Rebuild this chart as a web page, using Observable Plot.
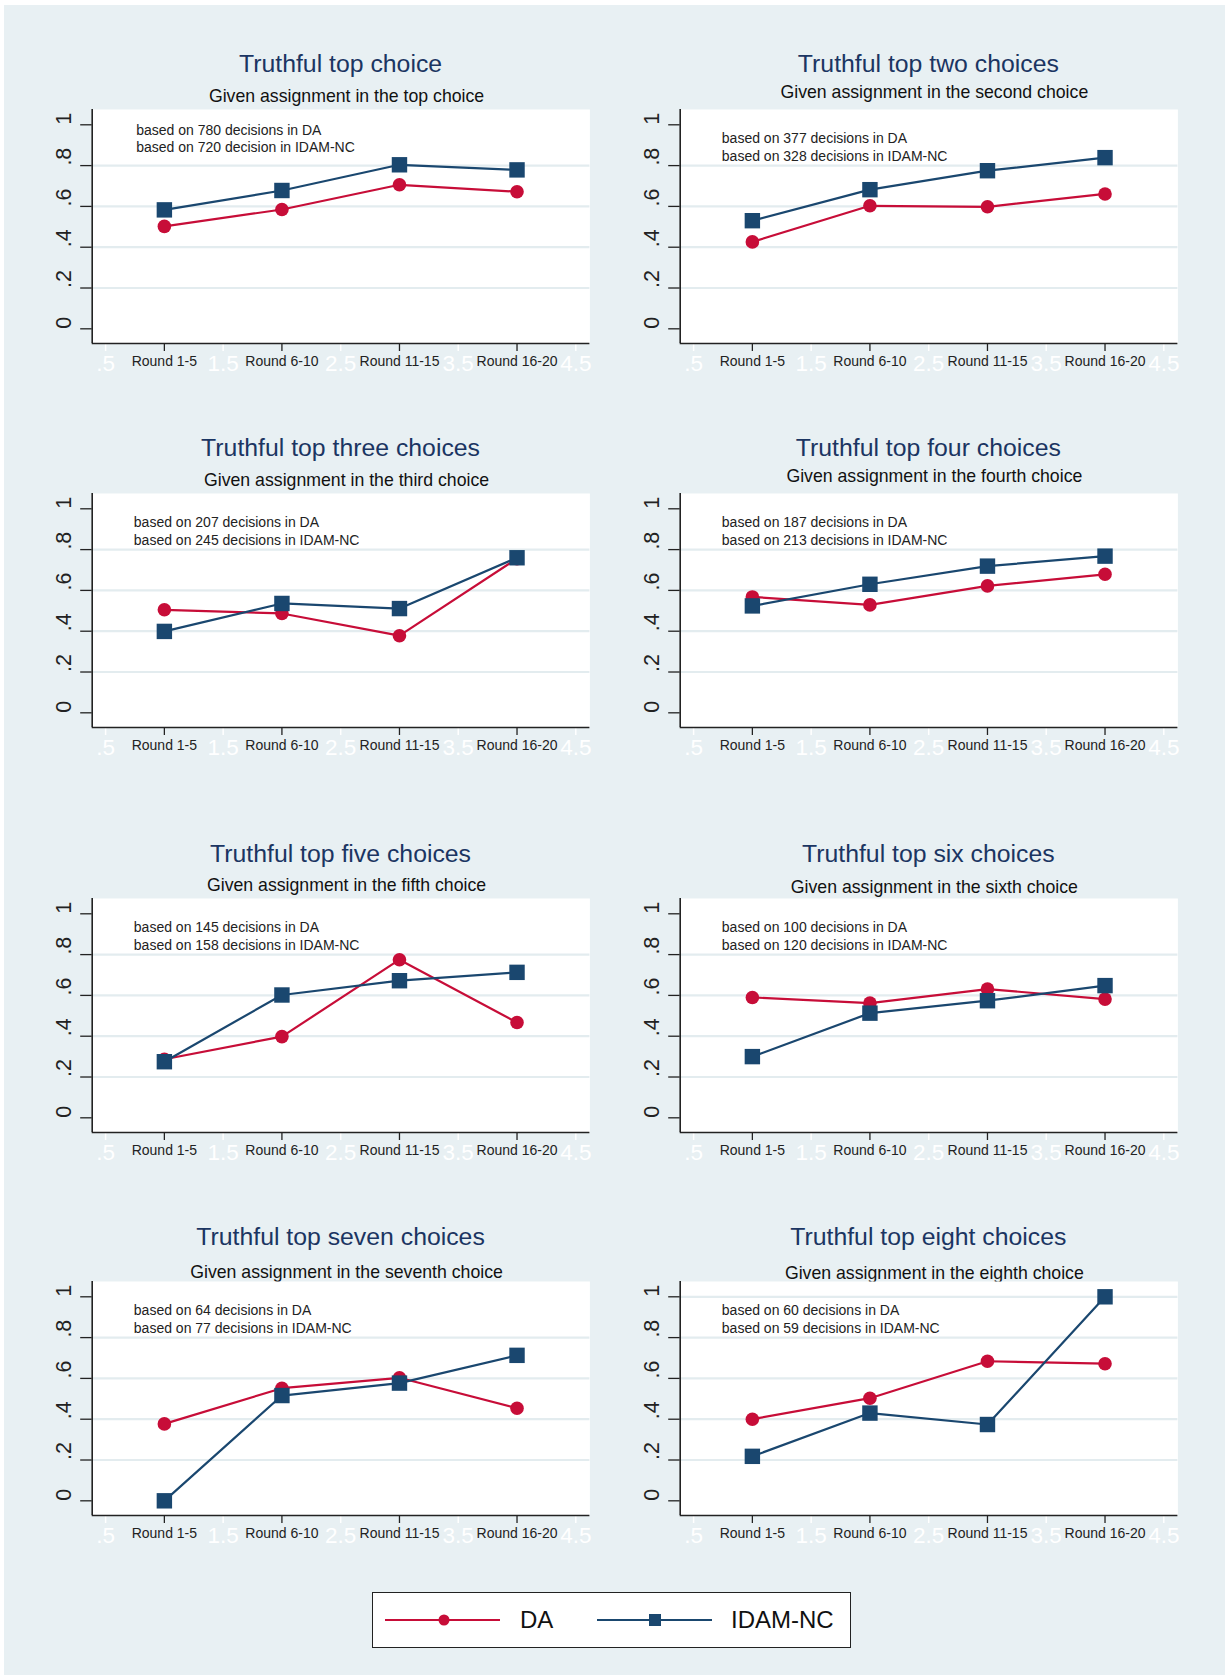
<!DOCTYPE html>
<html><head><meta charset="utf-8">
<script src="https://cdn.jsdelivr.net/npm/d3@7"></script>
<script src="https://cdn.jsdelivr.net/npm/@observablehq/plot@0.6"></script>
<style>
html,body{margin:0;padding:0;background:#fff;}
#fig{position:relative;width:1225px;height:1675px;overflow:hidden;font-family:"Liberation Sans",Arial,sans-serif;}
#bg{position:absolute;left:4px;top:5px;right:0;bottom:0;background:#e8f0f3;}
.title{position:absolute;transform:translate(-50%,-50%);white-space:nowrap;color:#1b3562;font-size:24.8px;line-height:1;}
.sub{position:absolute;transform:translate(-50%,-50%);white-space:nowrap;color:#111;font-size:17.7px;line-height:1;}
.panel{position:absolute;}
#legend{position:absolute;left:372px;top:1592px;width:477px;height:54px;background:#fff;border:1.5px solid #222;}
</style></head><body><div id="fig"><div id="bg"></div></div>
<script>
// ---- data ----
const rounds = ["Round 1-5", "Round 6-10", "Round 11-15", "Round 16-20"];
const seriesNames = ["DA", "IDAM-NC"];
const titles = ["Truthful top choice", "Truthful top two choices", "Truthful top three choices", "Truthful top four choices",
  "Truthful top five choices", "Truthful top six choices", "Truthful top seven choices", "Truthful top eight choices"];
const subtitles = ["Given assignment in the top choice", "Given assignment in the second choice", "Given assignment in the third choice",
  "Given assignment in the fourth choice", "Given assignment in the fifth choice", "Given assignment in the sixth choice",
  "Given assignment in the seventh choice", "Given assignment in the eighth choice"];
const notesDA = ["based on 780 decisions in DA", "based on 377 decisions in DA", "based on 207 decisions in DA", "based on 187 decisions in DA",
  "based on 145 decisions in DA", "based on 100 decisions in DA", "based on 64 decisions in DA", "based on 60 decisions in DA"];
const notesIDAM = ["based on 720 decision in IDAM-NC", "based on 328 decisions in IDAM-NC", "based on 245 decisions in IDAM-NC",
  "based on 213 decisions in IDAM-NC", "based on 158 decisions in IDAM-NC", "based on 120 decisions in IDAM-NC",
  "based on 77 decisions in IDAM-NC", "based on 59 decisions in IDAM-NC"];
const daValues = [
  [0.502, 0.585, 0.706, 0.672],
  [0.426, 0.603, 0.598, 0.661],
  [0.505, 0.487, 0.378, 0.756],
  [0.568, 0.529, 0.622, 0.679],
  [0.287, 0.398, 0.775, 0.467],
  [0.590, 0.562, 0.631, 0.582],
  [0.377, 0.552, 0.603, 0.454],
  [0.400, 0.503, 0.684, 0.672]
];
const idamValues = [
  [0.583, 0.678, 0.804, 0.779],
  [0.530, 0.682, 0.775, 0.839],
  [0.399, 0.536, 0.511, 0.760],
  [0.524, 0.630, 0.719, 0.768],
  [0.275, 0.602, 0.672, 0.713],
  [0.300, 0.513, 0.574, 0.648],
  [0.000, 0.516, 0.577, 0.713],
  [0.218, 0.430, 0.374, 1.000]
];
const yTicks = [0, 0.2, 0.4, 0.6, 0.8, 1];
const xMinorTicks = [0.5, 1.5, 2.5, 3.5, 4.5];

// ---- styles / layout ----
const RED = "#c70d38", NAVY = "#1a476f", INK = "#222", GRID = "#e3ecef";
const FONT = "Liberation Sans, Arial, sans-serif";
const colLeft = [0, 587.8];
const rowTop = [109, 493, 897.5, 1281];
const titleY = [64, 448, 854, 1237];
const subY = [[97, 93], [481, 477], [886, 888], [1273, 1274]];
const W = 620, PH = 234, MB = 60, ML = 91.7, MR = 30.6;
const XD = [0.386, 4.62], YD = [-0.072, 1.075];
const fmt = d => d === 0 ? "0" : d === 1 ? "1" : String(d).replace(/^0/, "");

const fig = document.getElementById("fig");

function panel(i) {
  const rowsDA = daValues[i].map((v, j) => ({x: j + 1, y: v}));
  const rowsID = idamValues[i].map((v, j) => ({x: j + 1, y: v}));
  const maxV = Math.max(...daValues[i], ...idamValues[i]);
  const grid = [0.2, 0.4, 0.6, 0.8].concat(maxV >= 1 ? [1] : []);
  const noteY = i === 0 ? [0.972, 0.887] : [0.932, 0.843];
  const noteX = i === 0 ? 0.76 : 0.74;
  return Plot.plot({
    width: W, height: PH + MB,
    marginLeft: ML, marginRight: MR, marginTop: 0, marginBottom: MB,
    x: {domain: XD, axis: null},
    y: {domain: YD, axis: null},
    style: {background: "transparent", overflow: "visible", fontFamily: FONT},
    marks: [
      Plot.frame({fill: "white", stroke: "none"}),
      Plot.ruleY(grid, {stroke: GRID, strokeWidth: 2.2}),
      Plot.axisX(xMinorTicks, {tickSize: 8, stroke: "white", strokeWidth: 1.5, tickFormat: () => "", label: null}),
      Plot.text(xMinorTicks, {x: d => d, text: d => String(d).replace(/^0/, ""), frameAnchor: "bottom", dy: 27, fill: "white", fontSize: 22.5}),
      Plot.axisX([1, 2, 3, 4], {tickSize: 8, stroke: INK, strokeWidth: 1.3, tickFormat: () => "", label: null}),
      Plot.text(rounds, {x: (d, j) => j + 1, text: d => d, frameAnchor: "bottom", dy: 22, fill: INK, fontSize: 14}),
      Plot.axisY(yTicks, {tickSize: 11.5, stroke: INK, strokeWidth: 1.3, tickFormat: () => "", label: null}),
      Plot.text(yTicks, {y: d => d, text: fmt, frameAnchor: "left", dx: -28.5, rotate: -90, fontSize: 21.5, fill: INK}),
      Plot.ruleX([XD[0]], {stroke: INK, strokeWidth: 1.6}),
      Plot.ruleY([YD[0]], {stroke: INK, strokeWidth: 1.6}),
      Plot.text([notesDA[i], notesIDAM[i]], {x: () => noteX, y: (d, j) => noteY[j], text: d => d, textAnchor: "start", fontSize: 14, fill: INK}),
      Plot.line(rowsDA, {x: "x", y: "y", stroke: RED, strokeWidth: 2.2}),
      Plot.dot(rowsDA, {x: "x", y: "y", r: 6.8, fill: RED, stroke: "none", symbol: "circle"}),
      Plot.line(rowsID, {x: "x", y: "y", stroke: NAVY, strokeWidth: 2.2}),
      Plot.dot(rowsID, {x: "x", y: "y", r: 8.7, fill: NAVY, stroke: "none", symbol: "square"})
    ]
  });
}

for (let i = 0; i < 8; i++) {
  const col = i % 2, row = Math.floor(i / 2);
  const left = colLeft[col], top = rowTop[row];
  const cx = left + ML + (W - ML - MR) / 2;
  const t = document.createElement("div");
  t.className = "title"; t.textContent = titles[i];
  t.style.left = cx + "px"; t.style.top = titleY[row] + "px";
  fig.appendChild(t);
  const s = document.createElement("div");
  s.className = "sub"; s.textContent = subtitles[i];
  s.style.left = (cx + 6) + "px"; s.style.top = subY[row][col] + "px";
  fig.appendChild(s);
  const p = document.createElement("div");
  p.className = "panel"; p.style.left = left + "px"; p.style.top = top + "px";
  p.appendChild(panel(i));
  fig.appendChild(p);
}

// legend
const lg = document.createElement("div");
lg.id = "legend";
fig.appendChild(lg);
const svg = d3.select(lg).append("svg").attr("width", 477).attr("height", 54).style("display", "block");
const ly = 27;
svg.append("line").attr("x1", 12).attr("x2", 127).attr("y1", ly).attr("y2", ly).attr("stroke", RED).attr("stroke-width", 2);
svg.append("circle").attr("cx", 71).attr("cy", ly).attr("r", 5.5).attr("fill", RED);
svg.append("text").attr("x", 147).attr("y", ly).attr("dy", "0.35em").attr("font-size", 24).attr("font-family", FONT).attr("fill", "#111").text(seriesNames[0]);
svg.append("line").attr("x1", 224).attr("x2", 339).attr("y1", ly).attr("y2", ly).attr("stroke", NAVY).attr("stroke-width", 2);
svg.append("rect").attr("x", 276).attr("y", ly - 6).attr("width", 12).attr("height", 12).attr("fill", NAVY);
svg.append("text").attr("x", 358).attr("y", ly).attr("dy", "0.35em").attr("font-size", 24).attr("font-family", FONT).attr("fill", "#111").text(seriesNames[1]);
</script>
</body></html>
